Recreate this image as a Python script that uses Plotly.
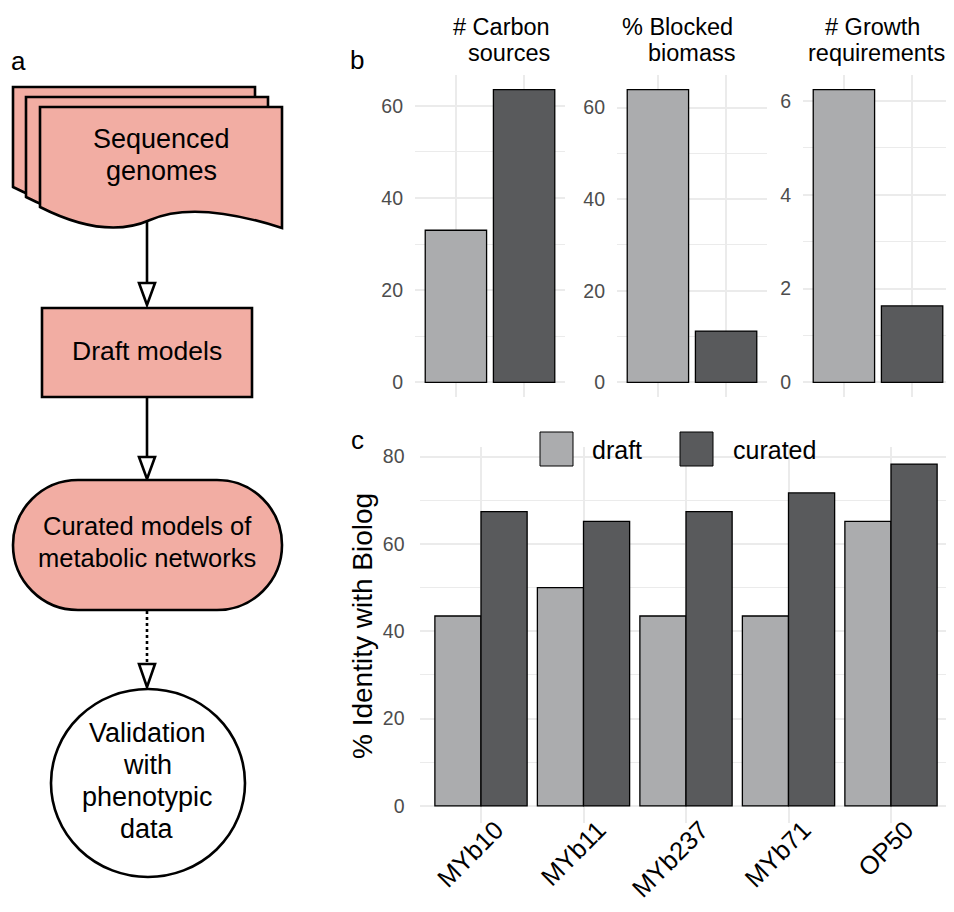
import plotly.graph_objects as go

# ---------------- data ----------------
groups = ["draft", "curated"]
carbon_sources = [33.0, 63.5]
blocked_biomass = [63.9, 11.2]
growth_requirements = [6.24, 1.63]

strains = ["MYb10", "MYb11", "MYb237", "MYb71", "OP50"]
identity_draft = [43.5, 50.0, 43.5, 43.5, 65.2]
identity_curated = [67.4, 65.2, 67.4, 71.7, 78.3]

b_titles = [("# Carbon", "sources"), ("% Blocked", "biomass"), ("# Growth", "requirements")]
flow_lines = [["Sequenced", "genomes"], ["Draft models"],
              ["Curated models of", "metabolic networks"],
              ["Validation", "with", "phenotypic", "data"]]

# ---------------- style ----------------
OFF = 8                          # default body margin of the html page
W, H = 954 - 2 * OFF, 912 - 2 * OFF
RIGHT = OFF + W                  # last drawable page pixel column
LIGHT = "#ABACAE"
DARK = "#595A5C"
SALMON = "#F2ADA3"
GRID = "#EBEBEB"
TICK = "#4D4D4D"
FONT = "Liberation Sans, Arial, sans-serif"


def X(p):
    return (p - OFF) / W


def Y(p):
    return 1 - (p - OFF) / H


def pt(x, y):
    return f"{X(x):.5f},{Y(y):.5f}"


def cat_axis(left, right, ncat):
    """domain + range for a discrete axis spanning left..right (page px),
    clipped at the drawable right edge while keeping the same scale."""
    span = ncat - 1 + 1.2
    ppu = (right - left) / span
    r_end = min(right, RIGHT)
    return [X(left), X(r_end)], [-0.6, -0.6 + (r_end - left) / ppu]


fig = go.Figure()

# ---------------- panel b ----------------
b_data = [carbon_sources, blocked_biomass, growth_requirements]
b_xpix = [(415, 565), (617, 767), (803, 953)]
b_dtick = [20, 20, 2]
for i, vals in enumerate(b_data):
    ax = "" if i == 0 else str(i + 1)
    fig.add_trace(go.Bar(
        x=groups, y=vals, xaxis="x" + ax, yaxis="y" + ax,
        marker=dict(color=[LIGHT, DARK], line=dict(color="black", width=1.3)),
        width=0.9, showlegend=False, hoverinfo="x+y"))
    mx = max(vals)
    d = b_dtick[i]
    dom, rng = cat_axis(b_xpix[i][0], b_xpix[i][1], len(groups))
    fig.layout["xaxis" + ax] = dict(
        domain=dom, anchor="y" + ax, type="category", range=rng,
        showticklabels=False, showgrid=True, gridcolor=GRID, gridwidth=2,
        zeroline=False, showline=False, ticks="", fixedrange=True, automargin=False)
    fig.layout["yaxis" + ax] = dict(
        domain=[Y(397), Y(75)], anchor="x" + ax,
        range=[-0.05 * mx, 1.05 * mx], dtick=d, tick0=0,
        showgrid=True, gridcolor=GRID, gridwidth=2, zeroline=False,
        showline=False, ticks="", ticklabelstandoff=11, automargin=False,
        tickfont=dict(size=19.5, color=TICK, family=FONT),
        minor=dict(dtick=d / 2, tick0=0, showgrid=True, gridcolor=GRID, gridwidth=1),
        fixedrange=True)

# ---------------- panel c ----------------
fig.add_trace(go.Bar(x=strains, y=identity_draft, name="draft", xaxis="x4", yaxis="y4",
                     marker=dict(color=LIGHT, line=dict(color="black", width=1.3)),
                     showlegend=False))
fig.add_trace(go.Bar(x=strains, y=identity_curated, name="curated", xaxis="x4", yaxis="y4",
                     marker=dict(color=DARK, line=dict(color="black", width=1.3)),
                     showlegend=False))
cmax = max(identity_draft + identity_curated)
cdom, crng = cat_axis(419.5, 952.5, len(strains))
fig.layout["xaxis4"] = dict(
    domain=cdom, anchor="free", position=Y(809), type="category", range=crng,
    showgrid=True, gridcolor=GRID, gridwidth=2, automargin=False,
    zeroline=False, showline=False, ticks="", tickangle=-45, ticklabelshift=15,
    tickfont=dict(size=25.5, color="black", family=FONT), fixedrange=True)
fig.layout["yaxis4"] = dict(
    domain=[Y(823), Y(447)], anchor="x4", range=[-0.05 * cmax, 1.05 * cmax],
    dtick=20, tick0=0, showgrid=True, gridcolor=GRID, gridwidth=2, zeroline=False,
    showline=False, ticks="", ticklabelstandoff=14, automargin=False,
    tickfont=dict(size=19.5, color=TICK, family=FONT),
    minor=dict(dtick=10, tick0=0, showgrid=True, gridcolor=GRID, gridwidth=1),
    fixedrange=True)

shapes = []
annotations = []


def label(txt, x, y, size, color="black", xanchor="center", angle=0):
    annotations.append(dict(text=txt, x=X(x), y=Y(y), xref="paper", yref="paper",
                            xanchor=xanchor, yanchor="middle", showarrow=False,
                            textangle=angle,
                            font=dict(size=size, color=color, family=FONT)))


# legend for panel c
for (x0, col, lab, lx) in [(540, LIGHT, "draft", 590), (680, DARK, "curated", 731)]:
    shapes.append(dict(type="rect", xref="paper", yref="paper",
                       x0=X(x0), x1=X(x0 + 33), y0=Y(466), y1=Y(432),
                       fillcolor=col, line=dict(color="black", width=1)))
    label(lab, lx, 450, 25, xanchor="left")

# panel b titles
title_pos = [((501, 27), (508.5, 53)), ((677, 27), (692, 53)), ((872, 27), (876, 53))]
for (l1, l2), (p1, p2) in zip(b_titles, title_pos):
    label(l1, p1[0], p1[1], 23.5)
    label(l2, p2[0], p2[1], 23.5)

# y title panel c
label("% Identity with Biolog", 362, 626, 28, angle=-90)

# panel letters
for lab, (lx, ly) in [("a", (18, 61)), ("b", (357, 60)), ("c", (357, 440))]:
    label(lab, lx, ly, 26)

# ---------------- panel a: flowchart ----------------
LW = 2.6


def doc_path(dx, dy):
    return ("M " + pt(40 + dx, 107 + dy) + " L " + pt(282 + dx, 107 + dy) +
            " L " + pt(282 + dx, 228 + dy) +
            " Q " + pt(195 + dx, 200 + dy) + " " + pt(150 + dx, 220 + dy) +
            " Q " + pt(105 + dx, 240 + dy) + " " + pt(40 + dx, 207 + dy) + " Z")


for dx, dy in [(-27, -20), (-14, -10), (0, 0)]:
    shapes.append(dict(type="path", xref="paper", yref="paper", path=doc_path(dx, dy),
                       fillcolor=SALMON, line=dict(color="black", width=LW)))


def tri(base, apex):
    return ("M " + pt(139, base) + " L " + pt(155, base) + " L " + pt(147, apex) + " Z")


# arrow 1
shapes.append(dict(type="line", xref="paper", yref="paper", x0=X(147), x1=X(147),
                   y0=Y(221), y1=Y(283), line=dict(color="black", width=LW)))
shapes.append(dict(type="path", xref="paper", yref="paper", path=tri(283, 305),
                   fillcolor="white", line=dict(color="black", width=LW)))

# draft models rect
shapes.append(dict(type="rect", xref="paper", yref="paper", x0=X(42), x1=X(252),
                   y0=Y(397), y1=Y(308), fillcolor=SALMON, line=dict(color="black", width=LW)))

# arrow 2
shapes.append(dict(type="line", xref="paper", yref="paper", x0=X(147), x1=X(147),
                   y0=Y(397), y1=Y(457), line=dict(color="black", width=LW)))
shapes.append(dict(type="path", xref="paper", yref="paper", path=tri(457, 479),
                   fillcolor="white", line=dict(color="black", width=LW)))

# stadium
L_, R_, T_, B_ = 13, 282, 480, 610
r = (B_ - T_) / 2
k = 0.5523 * r
cy = (T_ + B_) / 2
lc, rc = L_ + r, R_ - r
stad = ("M " + pt(lc, T_) + " L " + pt(rc, T_) +
        " C " + pt(rc + k, T_) + " " + pt(R_, cy - k) + " " + pt(R_, cy) +
        " C " + pt(R_, cy + k) + " " + pt(rc + k, B_) + " " + pt(rc, B_) +
        " L " + pt(lc, B_) +
        " C " + pt(lc - k, B_) + " " + pt(L_, cy + k) + " " + pt(L_, cy) +
        " C " + pt(L_, cy - k) + " " + pt(lc - k, T_) + " " + pt(lc, T_) + " Z")
shapes.append(dict(type="path", xref="paper", yref="paper", path=stad,
                   fillcolor=SALMON, line=dict(color="black", width=LW)))

# dotted arrow 3
shapes.append(dict(type="line", xref="paper", yref="paper", x0=X(147), x1=X(147),
                   y0=Y(611), y1=Y(664), line=dict(color="black", width=LW, dash="dot")))
shapes.append(dict(type="path", xref="paper", yref="paper", path=tri(664, 687),
                   fillcolor="white", line=dict(color="black", width=LW)))

# circle
shapes.append(dict(type="circle", xref="paper", yref="paper", x0=X(51), x1=X(245),
                   y0=Y(877), y1=Y(689), fillcolor="white", line=dict(color="black", width=LW)))

flow_pos = [(161, [139, 171], 27), (147, [351], 26.5), (147, [526, 558], 25.5),
            (147, [733, 765, 797, 829], 27)]
for lines, (tx, ys, fs) in zip(flow_lines, flow_pos):
    for txt, ty in zip(lines, ys):
        label(txt, tx, ty, fs)

fig.update_layout(
    width=W, height=H, margin=dict(l=0, r=0, t=0, b=0, pad=0, autoexpand=False),
    paper_bgcolor="white", plot_bgcolor="white",
    barmode="group", bargap=0.1, bargroupgap=0,
    shapes=shapes, annotations=annotations,
    font=dict(family=FONT))

fig.write_html("out.html", config={"displayModeBar": False})
